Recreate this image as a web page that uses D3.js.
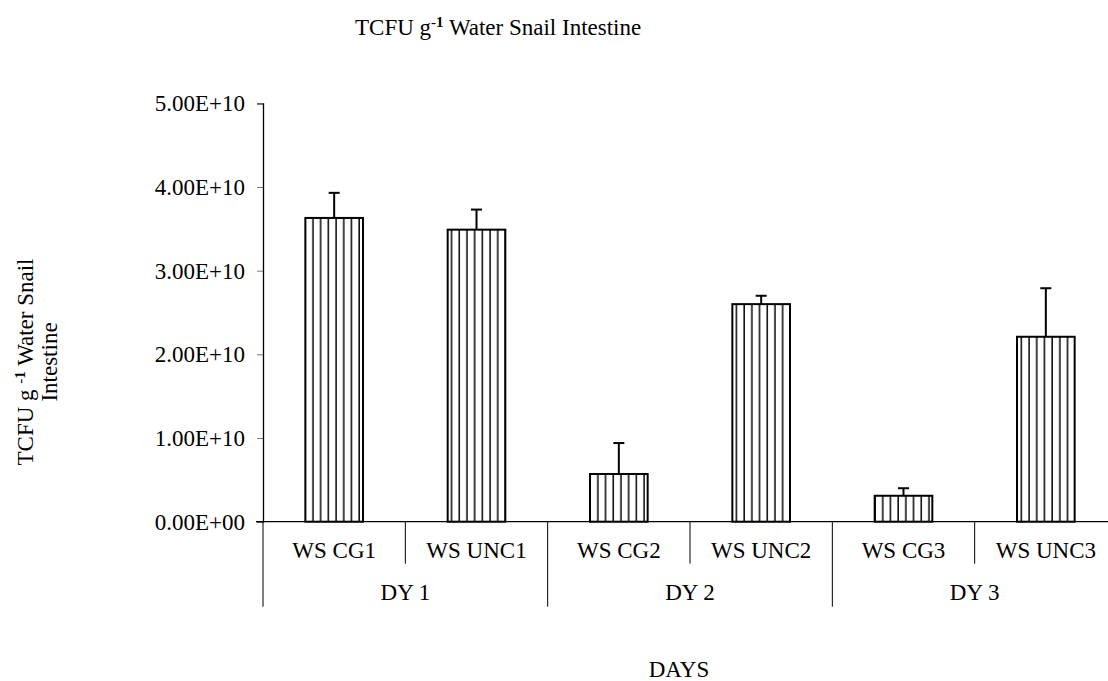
<!DOCTYPE html>
<html>
<head>
<meta charset="utf-8">
<script src="https://cdn.jsdelivr.net/npm/d3@7"></script>
<style>
  body { margin: 0; background: #fff; }
  text { font-family: "Liberation Serif", "Times New Roman", serif; fill: #000; }
</style>
</head>
<body>
<div id="chart"></div>
<script>
// treatment groups, one per bar
const categories = ['WS CG1', 'WS UNC1', 'WS CG2', 'WS UNC2', 'WS CG3', 'WS UNC3'];
const days = ['DY 1', 'DY 2', 'DY 3'];
const means = [3.63e10, 3.49e10, 0.57e10, 2.60e10, 0.31e10, 2.21e10];
const errors = [0.30e10, 0.24e10, 0.37e10, 0.10e10, 0.09e10, 0.58e10];
const yTicks = [0, 1e10, 2e10, 3e10, 4e10, 5e10];

const W = 1108, H = 681;
const margin = { left: 263, right: -9, top: 103.3, bottom: 159.3 };

// 5.00E+10 style labels
function sci(v) {
  if (v === 0) return '0.00E+00';
  const e = Math.floor(Math.log10(Math.abs(v)));
  const m = v / Math.pow(10, e);
  return m.toFixed(2) + 'E' + (e < 0 ? '-' : '+') + String(Math.abs(e)).padStart(2, '0');
}

const svg = d3.select('#chart').append('svg')
  .attr('width', W).attr('height', H);

// vertical hatching like the Excel pattern fill
const defs = svg.append('defs');
const pat = defs.append('pattern')
  .attr('id', 'vhatch')
  .attr('patternUnits', 'userSpaceOnUse')
  .attr('width', 7.7).attr('height', 10);
pat.append('rect').attr('width', 7.7).attr('height', 10).attr('fill', '#fff');
pat.append('line')
  .attr('x1', 5).attr('x2', 5).attr('y1', 0).attr('y2', 10)
  .attr('stroke', '#111').attr('stroke-width', 1.6);

const x = d3.scaleBand()
  .domain(categories)
  .range([margin.left, W - margin.right]);

const y = d3.scaleLinear()
  .domain([0, 5e10])
  .range([H - margin.bottom, margin.top]);

const bw = x.bandwidth() * 0.405;

// y axis
const yAxis = svg.append('g')
  .attr('transform', `translate(${margin.left},0)`)
  .call(d3.axisLeft(y).tickValues(yTicks).tickFormat(sci).tickSize(6).tickPadding(12));
yAxis.select('.domain').attr('stroke', '#000').attr('stroke-width', 1.3);
yAxis.selectAll('.tick line').attr('stroke', '#777').attr('stroke-width', 1);
yAxis.selectAll('.tick text')
  .attr('font-family', '"Liberation Serif", serif')
  .attr('font-size', 23).attr('fill', '#000');

// bars
svg.selectAll('rect.bar')
  .data(means)
  .join('rect')
  .attr('class', 'bar')
  .attr('x', (d, i) => x(categories[i]) + (x.bandwidth() - bw) / 2)
  .attr('y', d => y(d))
  .attr('width', bw)
  .attr('height', d => y(0) - y(d))
  .attr('fill', 'url(#vhatch)')
  .attr('stroke', '#000')
  .attr('stroke-width', 2);

// error bars (upper only)
const eb = svg.selectAll('g.err')
  .data(means)
  .join('g')
  .attr('class', 'err')
  .attr('stroke', '#000')
  .attr('stroke-width', 2);
eb.append('line')
  .attr('x1', (d, i) => x(categories[i]) + x.bandwidth() / 2)
  .attr('x2', (d, i) => x(categories[i]) + x.bandwidth() / 2)
  .attr('y1', d => y(d))
  .attr('y2', (d, i) => y(d + errors[i]));
eb.append('line')
  .attr('x1', (d, i) => x(categories[i]) + x.bandwidth() / 2 - 5.5)
  .attr('x2', (d, i) => x(categories[i]) + x.bandwidth() / 2 + 5.5)
  .attr('y1', (d, i) => y(d + errors[i]))
  .attr('y2', (d, i) => y(d + errors[i]));

// x axis line
svg.append('line')
  .attr('x1', margin.left - 7).attr('x2', W - margin.right)
  .attr('y1', y(0)).attr('y2', y(0))
  .attr('stroke', '#000').attr('stroke-width', 1.3);

// category dividers and labels
const x0 = y(0);
categories.forEach((c, i) => {
  const left = x(c);
  const outer = i % 2 === 0;
  svg.append('line')
    .attr('x1', left).attr('x2', left)
    .attr('y1', x0).attr('y2', outer ? x0 + 85 : x0 + 42)
    .attr('stroke', '#000').attr('stroke-width', 1);
  svg.append('text')
    .attr('x', left + x.bandwidth() / 2)
    .attr('y', x0 + 36)
    .attr('text-anchor', 'middle')
    .attr('font-size', 23)
    .text(c);
});
svg.append('line')
  .attr('x1', W - margin.right).attr('x2', W - margin.right)
  .attr('y1', x0).attr('y2', x0 + 85)
  .attr('stroke', '#000').attr('stroke-width', 1);

days.forEach((d, i) => {
  const a = x(categories[i * 2]);
  svg.append('text')
    .attr('x', a + x.bandwidth())
    .attr('y', x0 + 78)
    .attr('text-anchor', 'middle')
    .attr('font-size', 23)
    .text(d);
});

// title
const title = svg.append('text')
  .attr('x', 355).attr('y', 35)
  .attr('font-size', 23);
title.append('tspan').text('TCFU g');
title.append('tspan').attr('dy', -8).attr('font-size', 15).text('-');
title.append('tspan').attr('font-size', 15).attr('font-weight', 'bold').text('1');
title.append('tspan').attr('dy', 8).text(' Water Snail Intestine');

// y axis title, two lines
const yt = svg.append('text')
  .attr('transform', 'translate(33,362) rotate(-90)')
  .attr('text-anchor', 'middle')
  .attr('font-size', 23);
yt.append('tspan').text('TCFU g ');
yt.append('tspan').attr('dy', -8).attr('font-size', 15).text('-');
yt.append('tspan').attr('font-size', 15).attr('font-weight', 'bold').text('1');
yt.append('tspan').attr('dy', 8).text(' Water Snail');
svg.append('text')
  .attr('transform', 'translate(57,362) rotate(-90)')
  .attr('text-anchor', 'middle')
  .attr('font-size', 23)
  .text('Intestine');

// x axis title
svg.append('text')
  .attr('x', 679).attr('y', 677)
  .attr('text-anchor', 'middle')
  .attr('font-size', 23)
  .text('DAYS');
</script>
</body>
</html>
